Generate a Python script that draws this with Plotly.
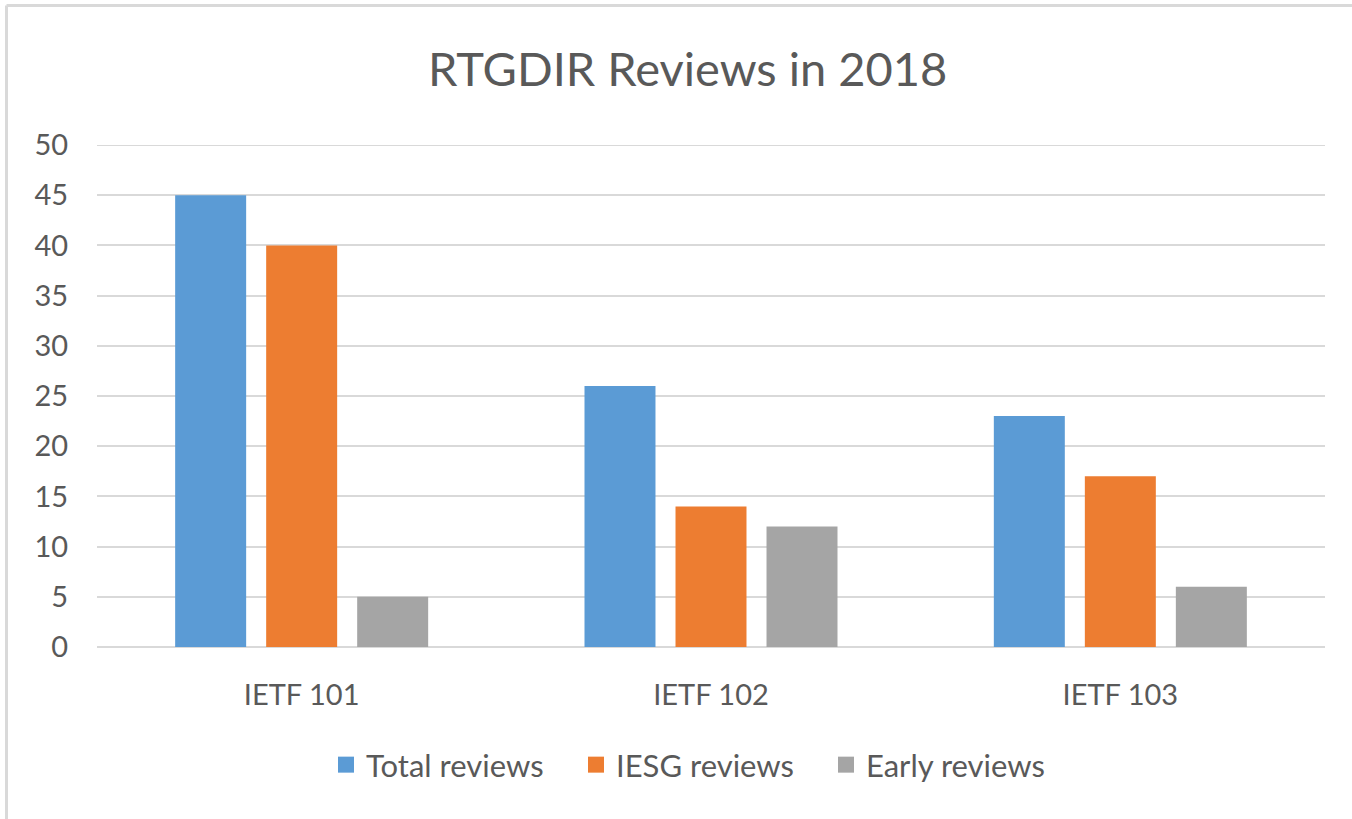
import plotly.graph_objects as go

categories = ["IETF 101", "IETF 102", "IETF 103"]
total_reviews = [45, 26, 23]
iesg_reviews = [40, 14, 17]
early_reviews = [5, 12, 6]
series_names = ["Total reviews", "IESG reviews", "Early reviews"]
colors = ["#5B9BD5", "#ED7D31", "#A5A5A5"]
y_ticks = [0, 5, 10, 15, 20, 25, 30, 35, 40, 45, 50]

FONT = "Lato"
TXT = "#595959"
GRID = "#D9D9D9"

fig = go.Figure()
for name, vals, col in zip(series_names, [total_reviews, iesg_reviews, early_reviews], colors):
    fig.add_trace(go.Bar(x=categories, y=vals, name=name, showlegend=False,
                         marker=dict(color=col, line=dict(width=0))))
# legend-only entries with larger square swatches
for name, col in zip(series_names, colors):
    fig.add_trace(go.Scatter(x=[None], y=[None], mode="markers", name=name,
                             marker=dict(symbol="square", size=18, color=col), showlegend=True))

W, H = 1352, 819
L, R, T, B = 97, 27, 145, 172
pw, ph = W - L - R, H - T - B

def px_to_paper_x(px):
    return (px - L) / pw

def px_to_paper_y(py):
    return (H - B - py) / ph

fig.update_layout(
    width=W, height=H,
    margin=dict(l=L, r=R, t=T, b=B, pad=0),
    paper_bgcolor="white", plot_bgcolor="white",
    barmode="group", bargap=0.333, bargroupgap=0.22,
    font=dict(family=FONT, color=TXT),
    showlegend=True,
    legend=dict(orientation="h", xanchor="left", yanchor="middle",
                x=px_to_paper_x(326), y=px_to_paper_y(765),
                font=dict(size=31, color=TXT, family=FONT),
                itemwidth=30, tracegroupgap=0, itemsizing="trace",
                entrywidth=205, entrywidthmode="pixels"),
    xaxis=dict(showgrid=False, zeroline=False, showline=False,
               ticks="outside", ticklen=22, tickcolor="rgba(0,0,0,0)",
               tickfont=dict(size=29, color=TXT, family=FONT)),
    yaxis=dict(range=[0, 50], tickvals=y_ticks, showgrid=True, gridcolor=GRID, gridwidth=2,
               zeroline=True, zerolinecolor=GRID, zerolinewidth=2, showline=False,
               ticks="outside", ticklen=22, tickcolor="rgba(0,0,0,0)",
               tickfont=dict(size=29, color=TXT, family=FONT)),
    annotations=[dict(text="RTGDIR Reviews in 2018", xref="paper", yref="paper",
                      x=px_to_paper_x(687.5), y=px_to_paper_y(68), xanchor="center", yanchor="middle",
                      showarrow=False, font=dict(size=47, color=TXT, family=FONT))],
    shapes=[
        dict(type="line", xref="paper", yref="y", x0=0, x1=1, y0=50, y1=50,
             line=dict(color=GRID, width=2), layer="below"),
        dict(type="line", xref="paper", yref="paper",
             x0=px_to_paper_x(6.5), x1=px_to_paper_x(W + 5), y0=px_to_paper_y(5.5), y1=px_to_paper_y(5.5),
             line=dict(color=GRID, width=3)),
        dict(type="line", xref="paper", yref="paper",
             x0=px_to_paper_x(6.5), x1=px_to_paper_x(6.5), y0=px_to_paper_y(5.5), y1=px_to_paper_y(H + 5),
             line=dict(color=GRID, width=3)),
    ],
)

fig.write_html("out.html", config={"displayModeBar": False},
               post_script="document.body.style.margin='0';")
